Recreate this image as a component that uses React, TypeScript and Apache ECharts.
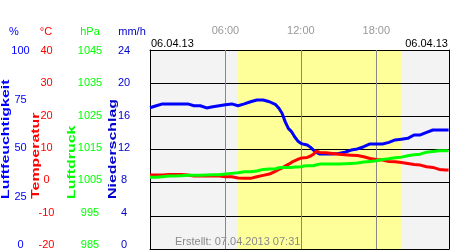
import React, { useEffect, useRef } from 'react';
import * as echarts from 'echarts';

const FONT = '"Liberation Sans", Arial, sans-serif';

// time of day in hours
const hours = [
  0, 0.5, 1, 1.5, 2, 2.5, 3, 3.5, 4, 4.5, 5, 5.5, 6, 6.5, 7, 7.5, 8, 8.5, 9, 9.5, 10,
  10.25, 10.5, 10.75, 11, 11.25, 11.5, 11.75, 12, 12.25, 12.5, 12.75, 13, 13.25, 13.5,
  14, 14.5, 15, 15.5, 16, 16.5, 17, 17.5, 18, 18.5, 19, 19.5, 20, 20.5, 21, 21.5, 22, 22.5, 23, 23.5, 23.75,
];
// Luftfeuchtigkeit (%)
const humidity = [
  71.0, 72.0, 72.9, 72.9, 72.9, 72.9, 72.9, 72.0, 72.0, 70.9, 71.5, 72.0, 72.5, 72.9, 72.0, 72.9, 74.0, 74.9, 74.9, 74.0, 72.5,
  70.7, 68.2, 64.0, 60.6, 59.0, 56.4, 54.3, 53.1, 52.6, 52.3, 51.2, 49.7, 48.5, 47.7,
  47.7, 47.7, 48.0, 48.6, 49.7, 50.3, 51.4, 52.8, 52.8, 52.8, 53.6, 54.8, 55.2, 55.6, 57.3, 57.3, 58.6, 59.8, 59.8, 59.8, 59.8,
];
// Temperatur (°C)
const temperature = [
  2.3, 2.3, 2.3, 2.5, 2.5, 2.5, 2.3, 2.0, 2.0, 2.0, 2.0, 2.0, 1.8, 1.8, 1.4, 1.3, 1.3, 1.8, 2.2, 2.6, 3.5,
  4.0, 4.4, 5.0, 5.5, 6.1, 6.6, 7.0, 7.4, 7.5, 7.6, 8.0, 8.6, 9.5, 9.1,
  9.0, 8.8, 8.6, 8.4, 8.3, 8.2, 7.8, 7.3, 7.0, 6.8, 6.4, 6.3, 6.1, 5.8, 5.5, 5.3, 4.8, 4.6, 4.0, 3.8, 3.8,
];
// Luftdruck (hPa)
const pressure = [
  1006.6, 1006.6, 1006.8, 1007.0, 1007.0, 1007.1, 1007.2, 1007.2, 1007.2, 1007.3, 1007.4, 1007.4, 1007.6, 1007.8, 1008.0, 1008.3, 1008.3, 1008.5, 1009.0, 1009.1, 1009.2,
  1009.5, 1009.6, 1009.6, 1009.6, 1009.6, 1009.7, 1009.7, 1009.8, 1010.0, 1010.1, 1010.1, 1010.1, 1010.4, 1010.6,
  1010.6, 1010.6, 1010.6, 1010.7, 1010.8, 1010.9, 1011.2, 1011.4, 1011.6, 1012.0, 1012.2, 1012.5, 1012.7, 1013.1, 1013.4, 1013.6, 1014.2, 1014.4, 1014.6, 1014.6, 1014.6,
];

const sunrise = 6.92;
const sunset = 20.03;
const dayEnd = 23.78;
const hourMarks = [6, 12, 18];

const dateLabel = '06.04.13';
const createdLabel = 'Erstellt: 07.04.2013 07:31';

const BLUE = '#0000ff';
const RED = '#ff0000';
const GREEN = '#00ff00';
const NAVY = '#0000cc';

export default function App() {
  const ref = useRef<HTMLDivElement>(null);

  useEffect(() => {
    const chart = echarts.init(ref.current!, null, { renderer: 'svg' });
    const pair = (vals: number[]) => hours.map((h, i) => [h, vals[i]]);

    const labelAxis = (min: number, max: number, interval: number, offset: number, color: string) => ({
      type: 'value',
      gridIndex: 1,
      position: 'left',
      min,
      max,
      interval,
      offset,
      axisLine: { show: false, onZero: false },
      axisTick: { show: false },
      splitLine: { show: false },
      axisLabel: {
        color, fontSize: 11, fontFamily: FONT, align: 'center', margin: 0,
        formatter: (v: number) => String(v),
      },
    });

    const rotated = (text: string, x: number, color: string) => ({
      type: 'text',
      x,
      y: 199,
      rotation: Math.PI / 2,
      scaleX: 1.45,
      z: 10,
      style: {
        text,
        fill: color,
        font: `bold 11px ${FONT}`,
        textAlign: 'left',
        textVerticalAlign: 'middle',
      },
    });

    const header = (text: string, x: number, color: string) => ({
      type: 'text',
      x,
      y: 31,
      z: 10,
      style: { text, fill: color, font: `11px ${FONT}`, textAlign: 'center', textVerticalAlign: 'middle' },
    });

    const option: any = {
      animation: false,
      grid: [
        {
          left: 150, top: 50, width: 299, height: 199, show: true, backgroundColor: '#f3f3f3', borderWidth: 0,
          containLabel: false, outerBoundsMode: 'none',
        },
        { left: 150, top: 50, width: 299, height: 194, show: false, containLabel: false, outerBoundsMode: 'none' },
      ],
      xAxis: [
        {
          type: 'value', gridIndex: 0, position: 'top', min: 0, max: dayEnd, interval: 6, z: 3,
          axisLine: { show: true, onZero: false, lineStyle: { color: '#000', width: 1 } },
          axisTick: { show: false },
          axisLabel: {
            color: '#999999', fontSize: 11, fontFamily: FONT, margin: 15, showMaxLabel: false, showMinLabel: false,
            formatter: (v: number) => (v === 0 || v > 23 ? '' : `${v < 10 ? '0' : ''}${v}:00`),
          },
          splitLine: { show: false },
        },
        {
          type: 'value', gridIndex: 0, position: 'bottom', min: 0, max: dayEnd, z: 3,
          axisLine: { show: true, onZero: false, lineStyle: { color: '#000', width: 1 } },
          axisTick: { show: false }, axisLabel: { show: false }, splitLine: { show: false },
        },
        { type: 'value', gridIndex: 1, min: 0, max: dayEnd, show: false },
      ],
      yAxis: [
        {
          type: 'value', gridIndex: 0, position: 'left', min: -20, max: 40, interval: 10, z: 3,
          axisLine: { show: true, onZero: false, lineStyle: { color: '#000', width: 1 } },
          axisTick: { show: false }, axisLabel: { show: false },
          splitLine: { show: true, lineStyle: { color: '#000', width: 1 } },
        },
        {
          type: 'value', gridIndex: 0, position: 'right', min: 0, max: 100, z: 3,
          axisLine: { show: true, onZero: false, lineStyle: { color: '#000', width: 1 } },
          axisTick: { show: false }, axisLabel: { show: false }, splitLine: { show: false },
        },
        {
          type: 'value', gridIndex: 0, position: 'right', min: 985, max: 1045, show: false,
          axisLine: { onZero: false },
        },
        labelAxis(0, 100, 25, 129.5, BLUE),
        labelAxis(-20, 40, 10, 103.5, RED),
        labelAxis(985, 1045, 10, 60, GREEN),
        labelAxis(0, 24, 4, 26, NAVY),
      ],
      series: [
        {
          type: 'line', xAxisIndex: 0, yAxisIndex: 0, data: [], z: 1, silent: true,
          markArea: {
            silent: true,
            itemStyle: { color: '#ffff99', opacity: 1 },
            data: [[{ xAxis: sunrise }, { xAxis: sunset }]],
          },
        },
        {
          type: 'line', xAxisIndex: 0, yAxisIndex: 0, data: [], z: 4, silent: true,
          markLine: {
            silent: true,
            symbol: 'none',
            label: { show: false },
            lineStyle: { color: '#888888', width: 1, type: 'solid' },
            data: hourMarks.map((h) => ({ xAxis: h })),
          },
        },
        {
          name: 'Luftfeuchtigkeit', type: 'line', xAxisIndex: 0, yAxisIndex: 1, z: 5,
          data: pair(humidity), showSymbol: false, lineStyle: { color: BLUE, width: 3 }, itemStyle: { color: BLUE },
        },
        {
          name: 'Temperatur', type: 'line', xAxisIndex: 0, yAxisIndex: 0, z: 5,
          data: pair(temperature), showSymbol: false, lineStyle: { color: RED, width: 3 }, itemStyle: { color: RED },
        },
        {
          name: 'Luftdruck', type: 'line', xAxisIndex: 0, yAxisIndex: 2, z: 5,
          data: pair(pressure), showSymbol: false, lineStyle: { color: GREEN, width: 3 }, itemStyle: { color: GREEN },
        },
      ],
      graphic: [
        header('%', 14, BLUE),
        header('°C', 46, RED),
        header('hPa', 90, GREEN),
        header('mm/h', 132, NAVY),
        rotated('Luftfeuchtigkeit', 5, BLUE),
        rotated('Temperatur', 35.5, RED),
        rotated('Luftdruck', 71, GREEN),
        rotated('Niederschlag', 112, NAVY),
        {
          type: 'text', x: 151, y: 43, z: 10,
          style: { text: dateLabel, fill: '#000', font: `11px ${FONT}`, textAlign: 'left', textVerticalAlign: 'middle' },
        },
        {
          type: 'text', x: 448, y: 43, z: 10,
          style: { text: dateLabel, fill: '#000', font: `11px ${FONT}`, textAlign: 'right', textVerticalAlign: 'middle' },
        },
        {
          type: 'rect', z: 4, shape: { x: 172, y: 233, width: 64, height: 15 },
          style: { fill: '#f3f3f3' },
        },
        {
          type: 'text', x: 175, y: 241, z: 10,
          style: { text: createdLabel, fill: '#8a8a8a', font: `11px ${FONT}`, textAlign: 'left', textVerticalAlign: 'middle' },
        },
      ],
    };

    chart.setOption(option);
    return () => chart.dispose();
  }, []);

  return <div ref={ref} style={{ position: 'fixed', left: 0, top: 0, width: 450, height: 250 }} />;
}
